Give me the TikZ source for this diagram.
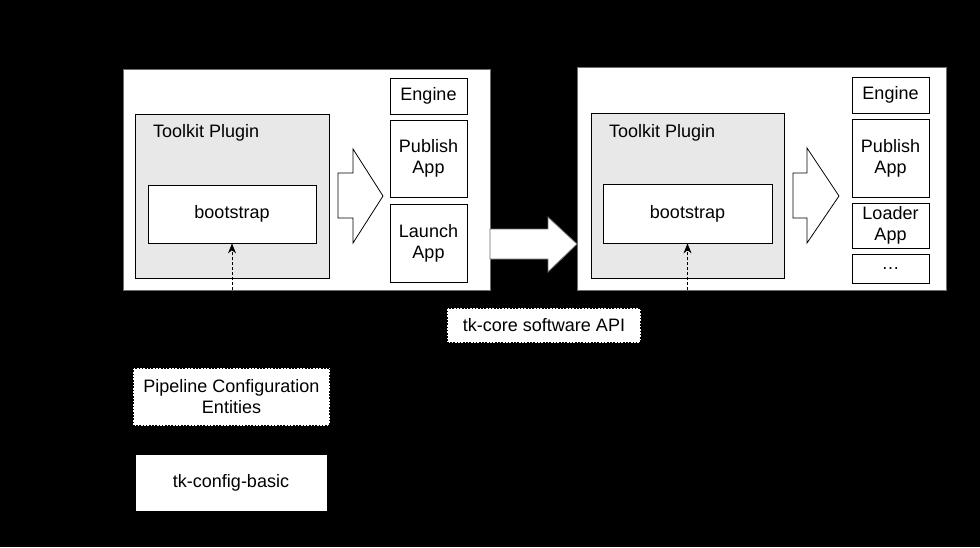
\documentclass[tikz,border=0pt]{standalone}
\usepackage{fontspec}
\setmainfont{Liberation Sans}
\usetikzlibrary{arrows.meta}
\definecolor{plugGray}{RGB}{232,232,232}
\definecolor{rimGray}{RGB}{110,110,110}
\tikzset{
  box/.style={draw=black, fill=white, line width=0.8pt, inner sep=0pt, align=center,
    font=\fontsize{18}{21}\selectfont},
  plug/.style={box, fill=plugGray},
  outer/.style={box, draw=rimGray},
  dotbox/.style={box, dash pattern=on 1.6pt off 1.6pt, line width=2.2pt},
  label/.style={inner sep=0pt, anchor=west, font=\fontsize{18}{21}\selectfont},
  fatarrow/.style={draw=black, fill=white, line width=0.8pt, line join=miter},
  feed/.style={densely dashed, line width=0.8pt, -{Stealth[length=10pt,width=8pt]}}
}
\begin{document}
\begin{tikzpicture}[x=1pt,y=-1pt]
\fill[black] (0,0) rectangle (980,547);

% left host
\node[outer, minimum width=367, minimum height=221] (outerL) at (306.5,179.5) {};
\node[plug, minimum width=194, minimum height=164] (plugL) at (232,196) {};
\node[label] (plugLtxt) at (153,133) {Toolkit Plugin};
\node[box, minimum width=168, minimum height=58] (bootL) at (232,214) {bootstrap};
\node[box, minimum width=77, minimum height=36] (engL) at (428.5,96) {Engine};
\node[box, minimum width=77, minimum height=77] (pubL) at (428.5,158.5) {Publish\\App};
\node[box, minimum width=77, minimum height=78] (lauL) at (428.5,243) {Launch\\App};
\draw[fatarrow] (338,173) -- (353,173) -- (353,149) -- (383,196) -- (353,243) -- (353,218) -- (338,218) -- cycle;
\coordinate (inL) at (bootL.south |- outerL.south);
\draw[feed] (inL) -- (bootL.south);

% upgrade arrow
\draw[fatarrow, draw=rimGray] (490,229) -- (548,229) -- (548,217) -- (577,244) -- (548,272) -- (548,259) -- (490,259) -- cycle;

% right host
\node[outer, minimum width=369, minimum height=223] (outerR) at (761.5,178.5) {};
\node[plug, minimum width=193, minimum height=165] (plugR) at (687.5,195.5) {};
\node[label] (plugRtxt) at (609,133) {Toolkit Plugin};
\node[box, minimum width=169, minimum height=59] (bootR) at (687.5,213.5) {bootstrap};
\node[box, minimum width=77, minimum height=36] (engR) at (890.5,95) {Engine};
\node[box, minimum width=77, minimum height=78] (pubR) at (890.5,158) {Publish\\App};
\node[box, minimum width=77, minimum height=45] (loadR) at (890.5,225.5) {Loader\\App};
\node[box, minimum width=77, minimum height=29] (moreR) at (890.5,268.5) {\dots};
\draw[fatarrow] (793,173) -- (807,173) -- (807,148) -- (839,196) -- (807,243) -- (807,218) -- (793,218) -- cycle;
\coordinate (inR) at (bootR.south |- outerR.south);
\draw[feed] (inR) -- (bootR.south);

% config side
\node[dotbox, minimum width=194, minimum height=35] (api) at (544,325.5) {tk-core software API};
\node[dotbox, minimum width=197, minimum height=58] (pipe) at (231.5,397) {Pipeline Configuration\\Entities};
\node[box, minimum width=192, minimum height=57] (cfg) at (231,482.5) {tk-config-basic};
\end{tikzpicture}
\end{document}
